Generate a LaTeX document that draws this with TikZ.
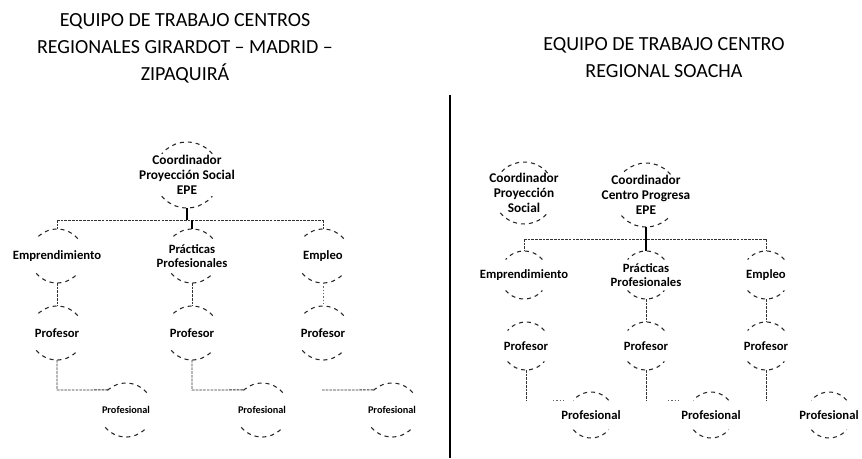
\documentclass[tikz,border=0pt]{standalone}
\usepackage{fontspec}
\setmainfont{Carlito}
\newcommand\circnode[6]{%
  \node[hold=#4] (#1) at (#2,#3) {};
  \node[#5] (#1t) at (#1) {#6};
  \draw[arcline] (#1.40) arc[start angle=40,end angle=140,radius=#4*0.75pt];
  \draw[arcline] (#1.220) arc[start angle=220,end angle=320,radius=#4*0.75pt];
}
\begin{document}
\begin{tikzpicture}[x=0.75pt,y=-0.75pt,
 hold/.style={circle,draw=none,minimum size=#1*1.5pt,inner sep=0pt,outer sep=0pt},
 arcline/.style={line width=0.8pt,dash pattern=on 3pt off 3pt,black!85},
 conn/.style={line width=0.7pt,dash pattern=on 2pt off 0.8pt,black!80},
 faint/.style={line width=0.6pt,dash pattern=on 1pt off 1.5pt,black!60},
 solidc/.style={line width=1.2pt,black},
 title/.style={font=\fontsize{15}{20.25}\selectfont,align=center,inner sep=0pt},
 lbl/.style={font=\fontsize{9.5}{10.5}\selectfont\bfseries,align=center,inner sep=0pt},
 lblc/.style={font=\fontsize{10}{11.25}\selectfont\bfseries,align=center,inner sep=0pt},
 lbls/.style={font=\fontsize{7.7}{9}\selectfont\bfseries,align=center,inner sep=0pt}]
\fill[white] (0,0) rectangle (862,458);
\path[use as bounding box] (0,0) rectangle (862,458);

% titles
\node[title] (tL) at (185,48) {EQUIPO DE TRABAJO CENTROS\\REGIONALES GIRARDOT -- MADRID --\\ZIPAQUIRÁ};
\node[title] (tR) at (664,58) {EQUIPO DE TRABAJO CENTRO\\REGIONAL SOACHA};

% divider
\draw[line width=2pt] (450,95) -- (450,458);

% ---------- left panel ----------
\circnode{cL}{187}{175}{33}{lblc}{Coordinador\\Proyección Social\\EPE}
\circnode{eL}{57}{256}{27}{lbl}{Emprendimiento}
\circnode{pL}{192}{256}{27}{lbl}{Prácticas\\Profesionales}
\circnode{mL}{323}{256}{27}{lbl}{Empleo}
\circnode{rL1}{57}{333}{27}{lbl}{Profesor}
\circnode{rL2}{192}{333}{27}{lbl}{Profesor}
\circnode{rL3}{323}{333}{27}{lbl}{Profesor}
\circnode{fL1}{126}{410}{27}{lbls}{Profesional}
\circnode{fL2}{262}{410}{27}{lbls}{Profesional}
\circnode{fL3}{392}{410}{27}{lbls}{Profesional}

\coordinate (jL) at (187,220);
\coordinate (hL1) at (57,220);
\coordinate (hL2) at (192,220);
\coordinate (hL3) at (323,220);
\draw[solidc] (cL.south) -- (jL);
\draw[conn] (hL1) -- (hL3);
\draw[conn] (hL1) -- (eL.north);
\draw[solidc,line width=0.9pt] (hL2) -- (pL.north);
\draw[conn] (hL3) -- (mL.north);
\draw[conn] (eL.south) -- (rL1.north);
\draw[conn] (pL.south) -- (rL2.north);
\draw[faint] (mL.south) -- (rL3.north);
\coordinate (kL1) at (57,390);
\coordinate (kL2) at (192,390);
\coordinate (kL3) at (322,390);
\draw[conn] (rL1.south) -- (kL1) -- (fL1.132);
\draw[conn] (rL2.south) -- (kL2) -- (fL2.132);
\draw[conn] (kL3) -- (fL3.132);

% ---------- right panel ----------
\circnode{cR1}{524}{193}{31}{lblc}{Coordinador\\Proyección\\Social}
\circnode{cR2}{646}{195}{32}{lblc}{Coordinador\\Centro Progresa\\EPE}
\circnode{eR}{524}{275}{24}{lbl}{Emprendimiento}
\circnode{pR}{646}{275}{24}{lbl}{Prácticas\\Profesionales}
\circnode{mR}{766}{275}{24}{lbl}{Empleo}
\circnode{rR1}{526}{346}{24}{lbl}{Profesor}
\circnode{rR2}{646}{346}{24}{lbl}{Profesor}
\circnode{rR3}{766}{346}{24}{lbl}{Profesor}
\circnode{fR1}{591}{415}{23}{lbl}{Profesional}
\circnode{fR2}{711}{415}{23}{lbl}{Profesional}
\circnode{fR3}{829}{415}{23}{lbl}{Profesional}

\coordinate (hR1) at (524,239);
\coordinate (hR3) at (766,239);
\draw[conn] (hR1) -- (hR3);
\draw[solidc] (cR2.south) -- (pR.north);
\draw[conn] (hR1) -- (eR.north);
\draw[conn] (hR3) -- (mR.north);
\draw[conn] (pR.south) -- (rR2.north);
\draw[conn] (mR.south) -- (rR3.north);
\coordinate (kR1) at (526,400);
\coordinate (kR2) at (646,400);
\coordinate (kR3) at (766,400);
\draw[conn] (rR1.south) -- (kR1);
\draw[conn] (rR2.south) -- (kR2);
\draw[conn] (rR3.south) -- (kR3);
\coordinate (dR1a) at (553,400);
\coordinate (dR1b) at (566,400);
\coordinate (dR2a) at (668,400);
\coordinate (dR2b) at (680,400);
\draw[faint] (dR1a) -- (dR1b);
\draw[faint] (dR2a) -- (dR2b);
\end{tikzpicture}
\end{document}
